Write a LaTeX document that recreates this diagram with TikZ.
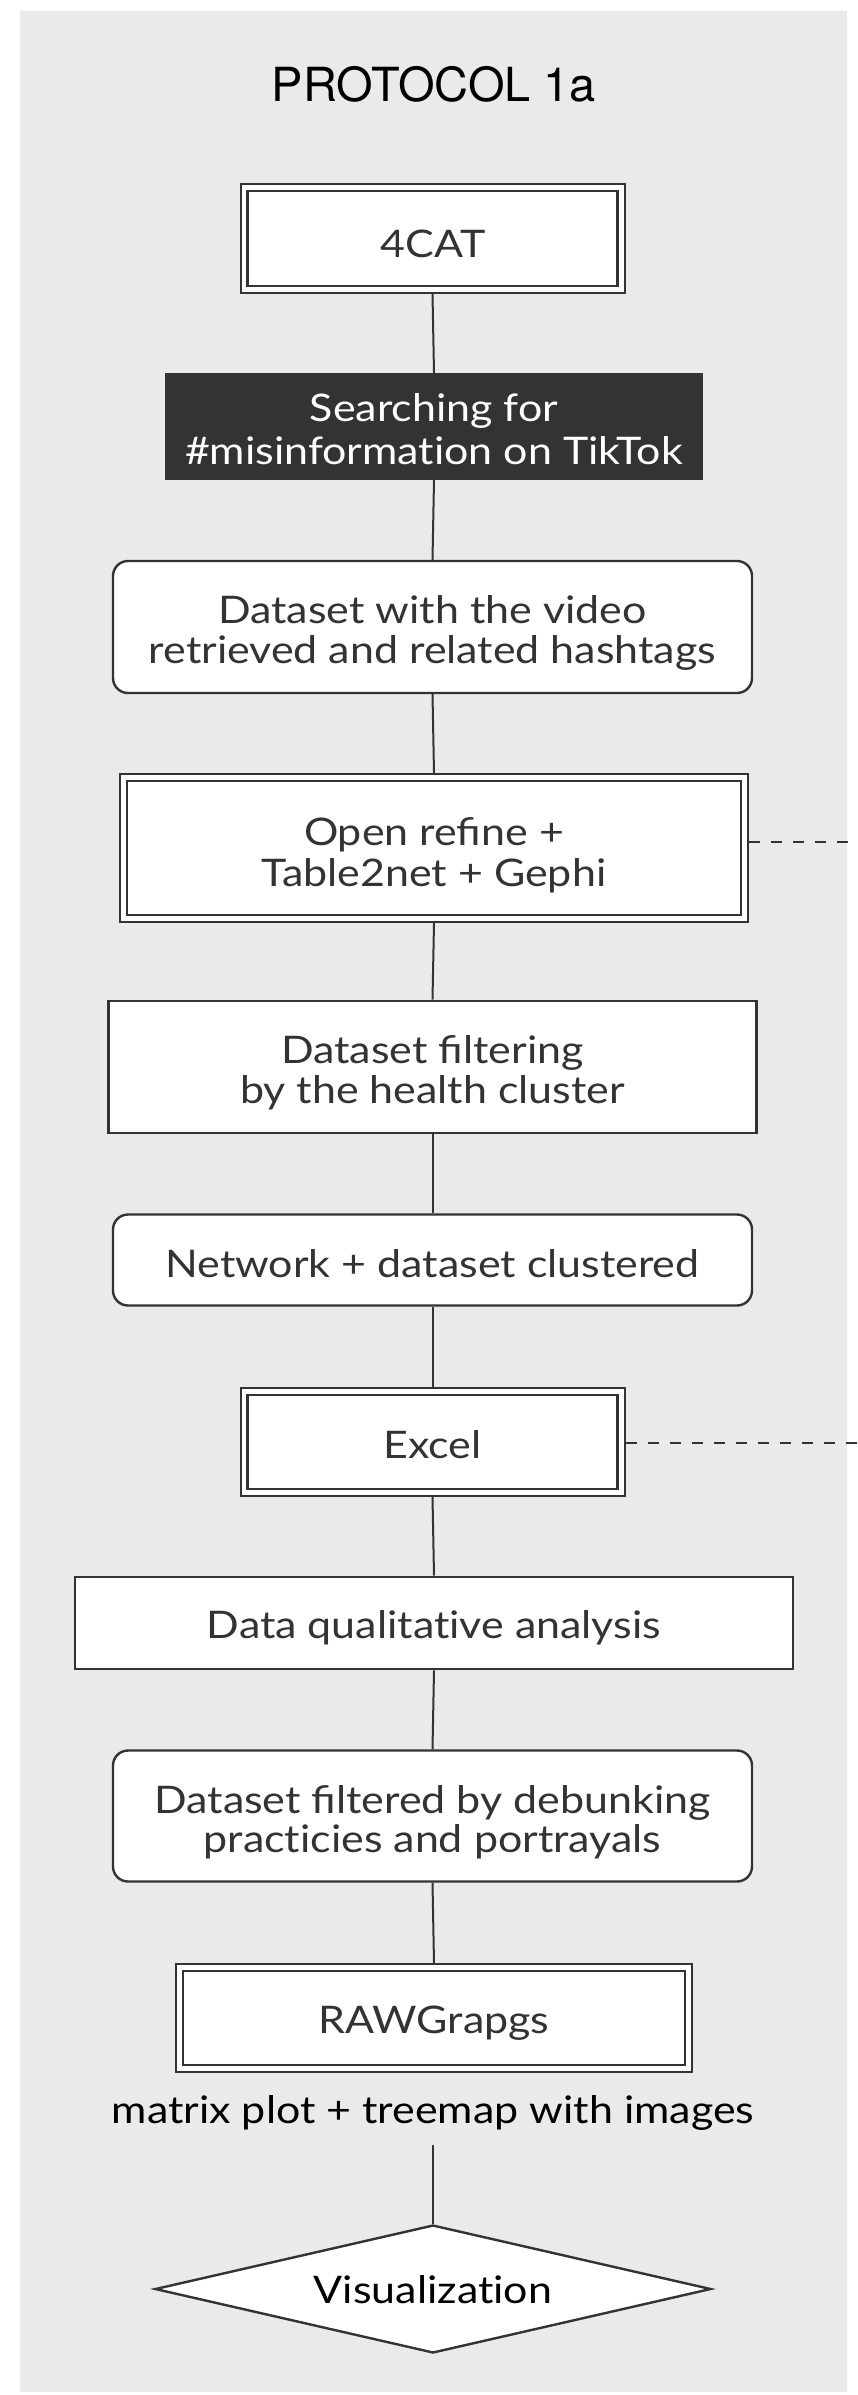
\documentclass[tikz,border=0pt]{standalone}
\usepackage{fontspec}
\setmainfont{Lato}[FakeStretch=1.13, Ligatures=NoCommon]
\newfontfamily\titlefont{TeX Gyre Heros}
\usetikzlibrary{shapes.geometric}
\definecolor{bggray}{HTML}{EAEAEA}
\definecolor{ink}{HTML}{333333}
\begin{document}
\begin{tikzpicture}[x=1pt,y=-1pt,
  txt/.style={font=\fontsize{38}{40}\selectfont, text=ink, inner sep=0pt, anchor=base},
  blacktxt/.style={txt, text=black},
  plainbox/.style={draw=ink, line width=2.8pt, fill=white, inner sep=0pt},
  roundbox/.style={draw=ink, line width=2.4pt, fill=white, inner sep=0pt, rounded corners=15pt},
  dblouter/.style={draw=ink, line width=2pt, fill=white, inner sep=0pt},
  dblinner/.style={draw=ink, line width=2.8pt},
  darkbox/.style={fill=ink, inner sep=0pt},
  conn/.style={draw=ink, line width=2pt},
  dashconn/.style={draw=ink, line width=2pt, dash pattern=on 11pt off 11pt},
  vizshape/.style={diamond, draw=ink, line width=2.4pt, fill=white, inner sep=0pt}
]
\useasboundingbox (0,0) rectangle (858,2395);
\fill[bggray] (20,11) rectangle (847,2392);

% title
\node[anchor=base, inner sep=0pt, font=\titlefont\fontsize{47}{50}\selectfont, text=black] (title) at (434,102) {PROTOCOL 1a};

% 4CAT
\node[dblouter, minimum width=384pt, minimum height=109pt] (cat) at (432.5,238.5) {};
\draw[dblinner] ([shift={(8,8)}]cat.north west) rectangle ([shift={(-8,-8)}]cat.south east);
\node[txt] (catt) at (433,257) {4CAT};

% Searching
\node[darkbox, minimum width=538pt, minimum height=107pt] (srch) at (434,426.5) {};
\node[txt, text=white] (srcha) at (434,421) {Searching for};
\node[txt, text=white] (srchb) at (434,464) {\#misinformation on TikTok};

% Dataset with video
\node[roundbox, minimum width=639pt, minimum height=132pt] (ds) at (432.5,627) {};
\node[txt] (dsa) at (432.5,623) {Dataset with the video};
\node[txt] (dsb) at (432.5,663) {retrieved and related hashtags};

% Open refine
\node[dblouter, minimum width=628pt, minimum height=148pt] (orf) at (434,848) {};
\draw[dblinner] ([shift={(8,8)}]orf.north west) rectangle ([shift={(-8,-8)}]orf.south east);
\node[txt] (orfa) at (434,845) {Open reﬁne +};
\node[txt] (orfb) at (434,886) {Table2net + Gephi};
\coordinate (d1) at (858,842);
\draw[dashconn] (orf.east |- d1) -- (d1);

% Filtering
\node[plainbox, minimum width=648pt, minimum height=132pt] (flt) at (432.5,1067) {};
\node[txt] (flta) at (432.5,1063) {Dataset ﬁltering};
\node[txt] (fltb) at (432.5,1103) {by the health cluster};

% Network
\node[roundbox, minimum width=639pt, minimum height=91pt] (net) at (432.5,1260) {};
\node[txt] (nett) at (432.5,1277) {Network + dataset clustered};

% Excel
\node[dblouter, minimum width=384pt, minimum height=108pt] (xl) at (432.5,1442) {};
\draw[dblinner] ([shift={(8,8)}]xl.north west) rectangle ([shift={(-8,-8)}]xl.south east);
\node[txt] (xlt) at (432.5,1458) {Excel};
\coordinate (d2) at (858,1443);
\draw[dashconn] (xl.east |- d2) -- (d2);

% Data qualitative analysis
\node[plainbox, minimum width=718pt, minimum height=92pt] (dq) at (434,1623) {};
\node[txt] (dqt) at (434,1638) {Data qualitative analysis};

% Dataset filtered
\node[roundbox, minimum width=639pt, minimum height=131pt] (df) at (432.5,1816) {};
\node[txt] (dfa) at (432.5,1813) {Dataset ﬁltered by debunking};
\node[txt] (dfb) at (432.5,1852) {practicies and portrayals};

% RAWGrapgs
\node[dblouter, minimum width=516pt, minimum height=108pt] (rg) at (434,2018) {};
\draw[dblinner] ([shift={(8,8)}]rg.north west) rectangle ([shift={(-8,-8)}]rg.south east);
\node[txt] (rgt) at (434,2033) {RAWGrapgs};

% matrix label
\node[blacktxt] (mx) at (433,2123) {matrix plot + treemap with images};
\coordinate (mtail) at (433,2145);

% Visualization
\node[vizshape, minimum width=556pt, minimum height=128pt] (viz) at (433,2289) {};
\node[blacktxt] (vizt) at (433,2303) {Visualization};

% connectors
\draw[conn] (cat.south) -- (srch.north);
\draw[conn] (srch.south) -- (ds.north);
\draw[conn] (ds.south) -- (orf.north);
\draw[conn] (orf.south) -- (flt.north);
\draw[conn] (flt.south) -- (net.north);
\draw[conn] (net.south) -- (xl.north);
\draw[conn] (xl.south) -- (dq.north);
\draw[conn] (dq.south) -- (df.north);
\draw[conn] (df.south) -- (rg.north);
\draw[conn] (mtail) -- (viz.north);
\end{tikzpicture}
\end{document}
